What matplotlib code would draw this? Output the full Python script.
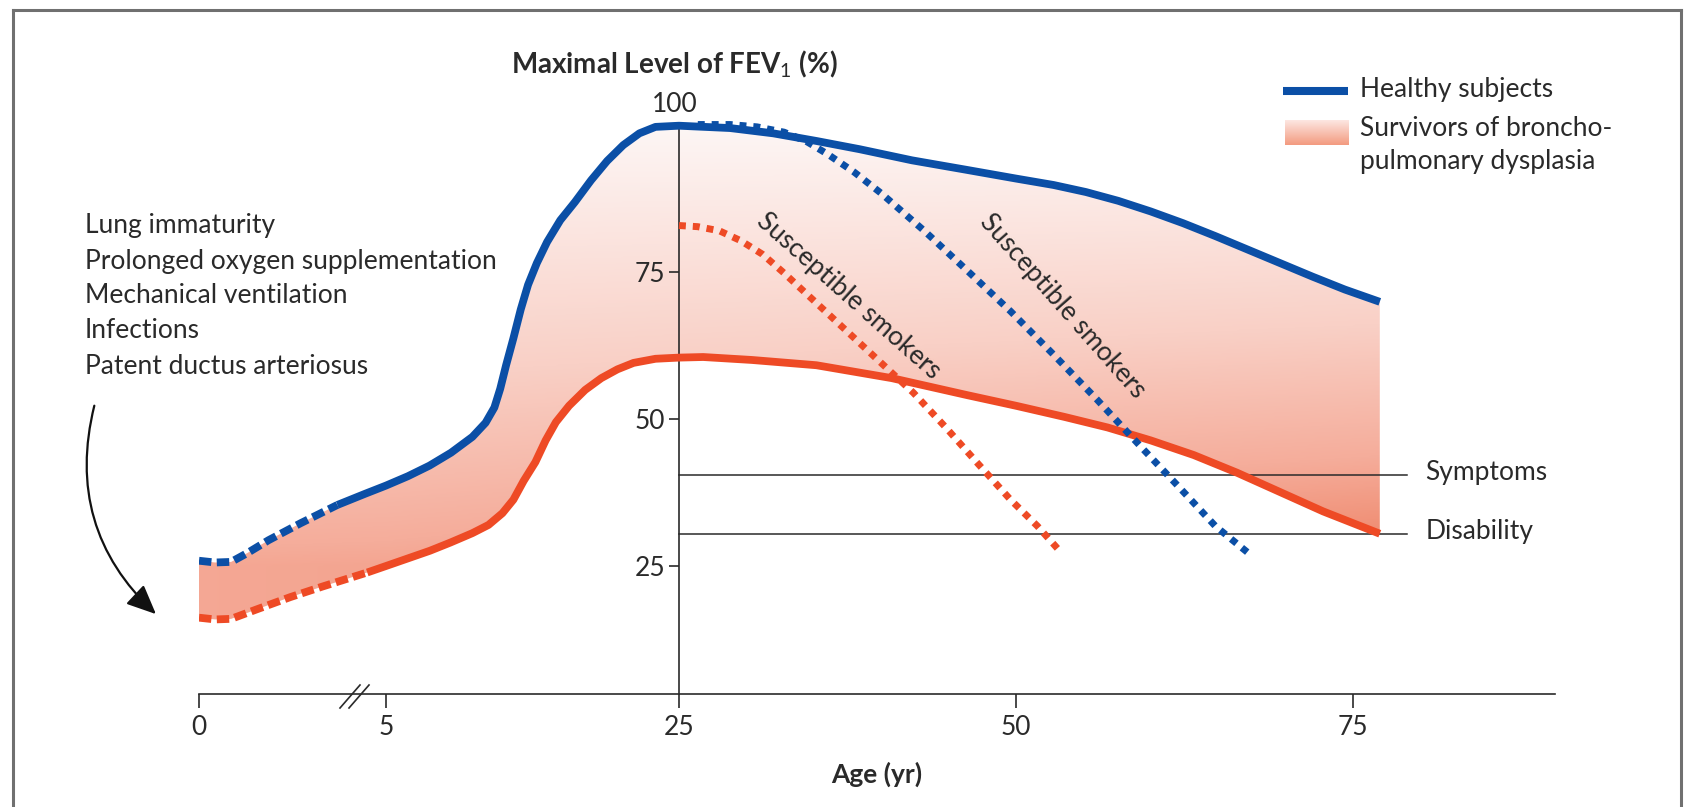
import numpy as np
import matplotlib
matplotlib.use("Agg")
import matplotlib.pyplot as plt
from matplotlib.colors import LinearSegmentedColormap
from matplotlib.patches import FancyArrowPatch
from matplotlib.lines import Line2D

plt.rcParams['font.family'] = ['Lato', 'DejaVu Sans']
plt.rcParams['mathtext.fontset'] = 'custom'
plt.rcParams['mathtext.rm'] = 'Lato'
plt.rcParams['mathtext.it'] = 'Lato:italic'
plt.rcParams['mathtext.bf'] = 'Lato:bold'
plt.rcParams['mathtext.default'] = 'rm'

# ---------------- data ----------------
healthy_age = [0, 0.43, 0.86, 1.29, 1.86, 2.72, 3.7, 4.44, 5, 6.5, 7.97, 9.44, 10.9, 11.8, 12.4,
               12.8, 13.2, 13.7, 14.2, 14.7, 15.3, 16.0, 16.9, 17.9, 19.0, 20.1, 21.2, 22.3, 23.4,
               25, 28.8, 32, 35.2, 38.4, 42.3, 46.3, 50, 52.8, 55.2, 57.6, 60.0, 62.4, 64.8,
               67.2, 69.6, 72.0, 74.4, 77.0]
healthy_fev = [25.9, 25.6, 25.7, 27.2, 29.4, 32.3, 35.4, 37.3, 38.7, 40.3, 42.1, 44.3, 47.0, 49.4,
               52.0, 55.2, 59.2, 63.8, 68.7, 72.9, 76.6, 80.2, 83.9, 87.0, 90.7, 94.0, 96.7, 98.7,
               99.8, 100, 99.6, 98.7, 97.4, 96.0, 94.1, 92.5, 91.0, 89.9, 88.7, 87.2, 85.4, 83.4,
               81.2, 78.9, 76.6, 74.3, 72.1, 70.0]
bpd_age = [0, 0.43, 0.86, 1.58, 2.44, 3.3, 4.5, 5, 6.5, 8, 9.4, 10.9, 12.0, 12.95, 13.7, 14.4,
           15.2, 15.9, 16.6, 17.5, 18.6, 19.7, 20.8, 21.9, 23.4, 25, 26.8, 30.4, 35.2, 40.8,
           46.4, 50, 53.6, 56.8, 60, 63.2, 66.4, 69.6, 72.8, 77.0]
bpd_fev = [16.2, 15.9, 16.0, 17.7, 19.7, 21.5, 23.9, 25.0, 26.3, 27.6, 29.0, 30.6, 32.0, 34.0,
           36.3, 39.5, 42.7, 46.4, 49.5, 52.3, 55.0, 57.0, 58.5, 59.6, 60.3, 60.5, 60.6, 60.1,
           59.2, 57.0, 54.1, 52.3, 50.4, 48.6, 46.4, 43.9, 40.9, 37.6, 34.3, 30.5]
healthy_dashed_until = 3.7
bpd_dashed_until = 4.5

smoker_healthy_age = [26.4, 28.8, 30.8, 32.8, 34.4, 36.0, 38.0, 40.0, 43.2, 46.4, 49.6, 52.8,
                      56.0, 59.2, 62.0, 64.8, 67.2]
smoker_healthy_fev = [100.2, 100.2, 99.8, 98.9, 97.4, 95.2, 92.1, 88.5, 82.1, 75.3, 68.4, 61.0,
                      53.4, 45.5, 38.7, 31.8, 27.3]
smoker_bpd_age = [25, 26.4, 28.0, 29.6, 31.2, 32.8, 35.2, 37.6, 40.0, 42.4, 44.8, 47.2, 49.6,
                  51.6, 53.2]
smoker_bpd_fev = [83.0, 82.8, 82.1, 80.4, 78.1, 74.9, 69.8, 64.7, 59.6, 54.5, 48.6, 42.4, 36.3,
                  31.8, 27.7]

threshold_names = ['Symptoms', 'Disability']
threshold_values = [40.5, 30.5]

x_ticks = [0, 5, 25, 50, 75]
y_ticks = [25, 50, 75, 100]
risk_factors = ['Lung immaturity', 'Prolonged oxygen supplementation', 'Mechanical ventilation',
                'Infections', 'Patent ductus arteriosus']
legend_labels = ['Healthy subjects', 'Survivors of broncho-', 'pulmonary dysplasia']

# ---------------- styling ----------------
W, H, DPI = 1684, 807, 100
BLUE = '#0b4fa6'
RED = '#ee4a25'
INK = '#2a2a2a'
FS = 19

# piecewise-linear age axis (compressed childhood)
AGE_KNOTS = np.array([-50.0, 0.0, 5.0, 25.0, 200.0])
POS_KNOTS = np.array([-50 * 37.4, 0.0, 187.0, 480.0, 480.0 + 175 * 13.48])


def fwd(a):
    return np.interp(a, AGE_KNOTS, POS_KNOTS)


def inv(p):
    return np.interp(p, POS_KNOTS, AGE_KNOTS)


def F(px, py):
    return (px / W, 1 - py / H)


fig = plt.figure(figsize=(W / DPI, H / DPI), dpi=DPI)
ax = fig.add_axes([199 / W, (H - 694) / H, 1356 / W, 627 / H])
ax.set_xscale('function', functions=(fwd, inv))
ax.set_xlim(0, 90)
ax.set_ylim(3.2, 110)
ax.patch.set_alpha(0)

h_age = np.array(healthy_age)
h_fev = np.array(healthy_fev)
b_age = np.array(bpd_age)
b_fev = np.array(bpd_fev)

# gradient band
poly = ax.fill(np.concatenate([h_age, b_age[::-1]]), np.concatenate([h_fev, b_fev[::-1]]),
               facecolor='none', edgecolor='none')[0]
cmap = LinearSegmentedColormap.from_list('band', [(0, '#fdf6f5'), (0.45, '#f9d0c6'),
                                                  (0.75, '#f5ad9b'), (1.0, '#ee8062')])
nx, ny = 500, 500
u = np.linspace(0, 1, nx)
v = np.linspace(0, 1, ny)
ages = inv(u * 1356)
vals = 3.2 + v * (110 - 3.2)
AA, VV = np.meshgrid(ages, vals)
t = np.clip((100 - VV) / 75, 0, 1.0) * (0.78 + 0.22 * np.clip(AA, 0, 77) / 77)
im = ax.imshow(cmap(t), extent=[0, 1, 0, 1], transform=ax.transAxes, origin='lower',
               aspect='auto', interpolation='bilinear', zorder=1)
im.set_clip_path(poly)
ax.set_xlim(0, 90)
ax.set_ylim(3.2, 110)

# thresholds
for name, val in zip(threshold_names, threshold_values):
    ax.plot([25, 79], [val, val], color=INK, lw=1.1, zorder=2)
    ax.text(80.4, val + 0.4, name, fontsize=FS, color=INK, va='center', ha='left')

lw = 5.6
# healthy
m = h_age >= healthy_dashed_until
ax.plot(h_age[m], h_fev[m], color=BLUE, lw=lw, solid_capstyle='butt', solid_joinstyle='round',
        zorder=4, clip_on=False)
m = h_age <= healthy_dashed_until
ax.plot(h_age[m], h_fev[m], color=BLUE, lw=lw, ls=(0, (1.6, 0.7)), dash_capstyle='butt', zorder=4)
# bpd
m = b_age >= bpd_dashed_until
ax.plot(b_age[m], b_fev[m], color=RED, lw=lw, solid_capstyle='butt', solid_joinstyle='round',
        zorder=4)
m = b_age <= bpd_dashed_until
ax.plot(b_age[m], b_fev[m], color=RED, lw=lw, ls=(0, (1.6, 0.7)), dash_capstyle='butt', zorder=4)

# smokers
ax.plot(smoker_healthy_age, smoker_healthy_fev, color=BLUE, lw=5.0, ls=(0, (1, 1)),
        dash_capstyle='butt', zorder=5, clip_on=False)
ax.plot(smoker_bpd_age, smoker_bpd_fev, color=RED, lw=5.0, ls=(0, (1, 1)),
        dash_capstyle='butt', zorder=5)
ax.text(37.6, 71.0, 'Susceptible smokers', fontsize=FS, color=INK, rotation=-41.6,
        ha='center', va='center', rotation_mode='anchor', zorder=6)
ax.text(53.5, 69.3, 'Susceptible smokers', fontsize=FS, color=INK, rotation=-48.5,
        ha='center', va='center', rotation_mode='anchor', zorder=6)

# axes
for s in ['top', 'right']:
    ax.spines[s].set_visible(False)
ax.spines['left'].set_position(('data', 25))
ax.spines['left'].set_bounds(3.2, 100)
ax.spines['bottom'].set_bounds(0, 90)
for s in ['left', 'bottom']:
    ax.spines[s].set_color(INK)
    ax.spines[s].set_linewidth(1.2)
    ax.spines[s].set_zorder(3)
ax.set_xticks(x_ticks)
ax.set_xticklabels([str(x) for x in x_ticks])
ax.set_yticks(y_ticks)
ax.set_yticklabels([str(y) if y != 100 else '' for y in y_ticks])
ax.tick_params(axis='x', direction='out', length=10, width=1.2, color=INK, labelsize=FS,
               labelcolor=INK, pad=5)
ax.tick_params(axis='y', direction='out', length=7, width=1.2, color=INK, labelsize=FS,
               labelcolor=INK, pad=3)
ax.minorticks_off()
ax.text(24.7, 103.6, str(y_ticks[-1]), fontsize=FS, color=INK, ha='center', va='center')

# axis break marks
for dx in (0, 9):
    fig.add_artist(Line2D([(340 + dx) / W, (360 + dx) / W], [1 - 708 / H, 1 - 685 / H],
                          transform=fig.transFigure, color=INK, lw=1.2))

ax.set_xlabel('Age (yr)', fontsize=FS, fontweight='bold', color=INK, labelpad=16)
fig.text(*F(511, 64), 'Maximal Level of FEV$_1$ (%)', fontsize=20, fontweight='bold',
         color=INK, ha='left', va='center')

# risk factors + arrow
for i, r in enumerate(risk_factors):
    fig.text(*F(85, 226 + i * 35), r, fontsize=FS, color=INK, ha='left', va='center')
arr = FancyArrowPatch(F(95, 403), F(158, 616), transform=fig.transFigure,
                      connectionstyle='arc3,rad=0.3',
                      arrowstyle='-|>,head_length=0.9,head_width=0.4', mutation_scale=20,
                      lw=1.6, color='#111111')
fig.add_artist(arr)

# legend
fig.add_artist(Line2D([1283 / W, 1348 / W], [1 - 91 / H, 1 - 91 / H], transform=fig.transFigure,
                      color=BLUE, lw=5.8, solid_capstyle='butt'))
fig.text(*F(1360, 89), legend_labels[0], fontsize=FS, color=INK, ha='left', va='center')
lax = fig.add_axes([1285 / W, 1 - 145 / H, 64 / W, 25 / H])
gcm = LinearSegmentedColormap.from_list('leg', ['#f39b80', '#fde9e5'])
lax.imshow(gcm(np.linspace(0, 1, 50))[:, None, :], origin='lower', aspect='auto',
           extent=[0, 1, 0, 1])
lax.axis('off')
fig.text(*F(1360, 129), legend_labels[1], fontsize=FS, color=INK, ha='left', va='center')
fig.text(*F(1360, 162), legend_labels[2], fontsize=FS, color=INK, ha='left', va='center')

# frame
fcol = '#707070'
fig.add_artist(Line2D([13 / W, 13 / W], [0, 1 - 10 / H], transform=fig.transFigure, color=fcol, lw=2.2))
fig.add_artist(Line2D([13 / W, 1681 / W], [1 - 10 / H, 1 - 10 / H], transform=fig.transFigure, color=fcol, lw=2.2))
fig.add_artist(Line2D([1681 / W, 1681 / W], [1 - 10 / H, 0], transform=fig.transFigure, color=fcol, lw=2.2))

fig.savefig('out.png', dpi=DPI)
